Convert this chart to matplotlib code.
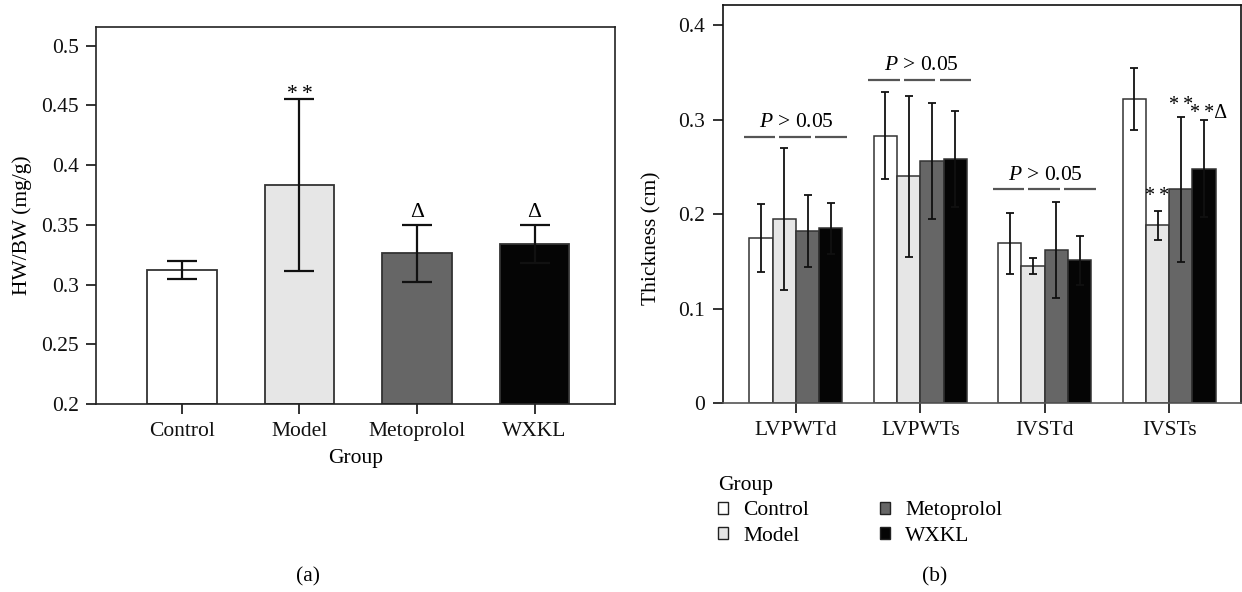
import matplotlib
matplotlib.use("Agg")
import matplotlib.pyplot as plt
from matplotlib.patches import Patch
import numpy as np

plt.rcParams['font.family'] = ['Liberation Serif', 'DejaVu Serif']
plt.rcParams['mathtext.fontset'] = 'custom'
plt.rcParams['mathtext.it'] = 'Liberation Serif:italic'
plt.rcParams['mathtext.rm'] = 'Liberation Serif'

# ---------------- data ----------------
groups = ["Control", "Model", "Metoprolol", "WXKL"]
colors = ["#ffffff", "#e6e6e6", "#666666", "#050505"]

# panel (a)
hwbw_mean = [0.312, 0.383, 0.326, 0.334]
hwbw_err = [0.0075, 0.072, 0.0235, 0.016]
hwbw_marks = ["", "*\u2009*", "Δ", "Δ"]
a_yticks = [0.2, 0.25, 0.3, 0.35, 0.4, 0.45, 0.5]
a_yticklabels = ["0.2", "0.25", "0.3", "0.35", "0.4", "0.45", "0.5"]

# panel (b)
params = ["LVPWTd", "LVPWTs", "IVSTd", "IVSTs"]
thick_mean = {
    "Control":    [0.175, 0.283, 0.169, 0.322],
    "Model":      [0.195, 0.240, 0.145, 0.188],
    "Metoprolol": [0.182, 0.256, 0.162, 0.226],
    "WXKL":       [0.185, 0.258, 0.151, 0.248],
}
thick_err = {
    "Control":    [0.036, 0.046, 0.032, 0.033],
    "Model":      [0.075, 0.085, 0.008, 0.015],
    "Metoprolol": [0.038, 0.061, 0.051, 0.077],
    "WXKL":       [0.027, 0.051, 0.026, 0.051],
}
thick_marks = {"Model": ["", "", "", "*\u2009*"], "Metoprolol": ["", "", "", "*\u2009*"],
               "WXKL": ["", "", "", "*\u2009*Δ"]}
sig_params = ["LVPWTd", "LVPWTs", "IVSTd"]
sig_level = [0.2817, 0.3417, 0.226]
sig_text = "$P$ > 0.05"
b_yticks = [0, 0.1, 0.2, 0.3, 0.4]
b_yticklabels = ["0", "0.1", "0.2", "0.3", "0.4"]

# ---------------- figure ----------------
W, H = 1242, 592
fig = plt.figure(figsize=(W / 100, H / 100), dpi=100)
FS = 15.5
edge = "#333333"

def px(x0, y0, x1, y1):
    return [x0 / W, 1 - y1 / H, (x1 - x0) / W, (y1 - y0) / H]

# ===== panel (a) =====
axa = fig.add_axes(px(95.7, 26.7, 615, 404))
xa = np.arange(len(groups))
axa.bar(xa, [m - 0.2 for m in hwbw_mean], bottom=0.2, width=0.595, color=colors,
        edgecolor=edge, linewidth=1.3, zorder=2)
axa.errorbar(xa, hwbw_mean, yerr=hwbw_err, fmt="none", ecolor="#111111",
             elinewidth=1.6, capsize=11, capthick=1.6, zorder=3)
for x, m, e, t in zip(xa, hwbw_mean, hwbw_err, hwbw_marks):
    if t.startswith("*"):
        axa.text(x, m + e - 0.004, t, ha="center", va="bottom", fontsize=FS)
    elif t:
        axa.text(x, m + e + 0.0025, t, ha="center", va="bottom", fontsize=FS)
axa.set_xlim(-0.734, 3.685)
axa.set_ylim(0.2, 0.5158)
axa.set_yticks(a_yticks)
axa.set_yticklabels(a_yticklabels)
axa.set_xticks(xa)
axa.set_xticklabels(groups)
axa.tick_params(axis="both", direction="out", length=7.3, width=1.2,
                labelsize=FS, colors="#111111")
axa.tick_params(axis="y", pad=4.8)
axa.tick_params(axis="x", pad=6)
for s in axa.spines.values():
    s.set_linewidth(1.2)
    s.set_color("#222222")
axa.set_ylabel("HW/BW (mg/g)", fontsize=FS)
axa.yaxis.label.set_va("center")
axa.yaxis.set_label_coords((22 - 95.7) / 519.3, (404 - 225) / 377.3)
axa.set_xlabel("Group", fontsize=FS)
axa.xaxis.label.set_va("center")
axa.xaxis.set_label_coords(0.5, (404 - 459) / 377.3)

# ===== panel (b) =====
axb = fig.add_axes(px(722.7, 4.7, 1241.3, 403))
xb = np.arange(len(params))
bw = 0.187
offsets = (np.arange(len(groups)) - 1.5) * bw
for g, c, off in zip(groups, colors, offsets):
    axb.bar(xb + off, thick_mean[g], width=bw, color=c, edgecolor=edge,
            linewidth=1.1, zorder=2, label=g)
    axb.errorbar(xb + off, thick_mean[g], yerr=thick_err[g], fmt="none",
                 ecolor="#111111", elinewidth=1.3, capsize=2.8, capthick=1.3, zorder=3)
    if g in thick_marks:
        for i, t in enumerate(thick_marks[g]):
            if not t:
                continue
            if g == "Model":
                axb.text(xb[i] + off, thick_mean[g][i] + thick_err[g][i] + 0.005, t,
                         ha="center", va="bottom", fontsize=FS - 1)
            elif g == "Metoprolol":
                axb.text(xb[i] + off, thick_mean[g][i] + thick_err[g][i] + 0.002, t,
                         ha="center", va="bottom", fontsize=FS - 1)
            else:
                axb.text(xb[i] + off - 0.11, thick_mean[g][i] + thick_err[g][i] - 0.003, t,
                         ha="left", va="bottom", fontsize=FS - 1)

seg_spans = [(-0.42, -0.165), (-0.135, 0.12), (0.155, 0.41)]
for p, lvl in zip(sig_params, sig_level):
    i = params.index(p)
    for s0, s1 in seg_spans:
        axb.plot([i + s0, i + s1], [lvl, lvl], color="#555555", lw=1.6,
                 solid_capstyle="butt", zorder=3)
    axb.text(i + 0.005, lvl + 0.005, sig_text, ha="center", va="bottom", fontsize=FS)

axb.set_xlim(-0.589, 3.58)
axb.set_ylim(0, 0.4215)
axb.set_yticks(b_yticks)
axb.set_yticklabels(b_yticklabels)
axb.set_xticks(xb)
axb.set_xticklabels(params)
axb.tick_params(axis="both", direction="out", length=7, width=1.2,
                labelsize=FS, colors="#111111")
axb.tick_params(axis="y", pad=5.5)
axb.tick_params(axis="x", pad=6)
for s in axb.spines.values():
    s.set_linewidth(1.2)
    s.set_color("#111111")
axb.spines["bottom"].set_color("#555555")
axb.set_ylabel("Thickness (cm)", fontsize=FS)
axb.yaxis.label.set_va("center")
axb.yaxis.set_label_coords((652 - 722.7) / 518.6, (403 - 238) / 398.3)

handles = [Patch(facecolor=c, edgecolor="#222222", linewidth=1.0) for c in colors]
leg = fig.legend(handles, groups, loc="upper left",
                 bbox_to_anchor=(718 / W, 1 - 476 / H), ncol=2, frameon=False,
                 title="Group", title_fontsize=FS, fontsize=FS, alignment="left",
                 handlelength=0.45, handleheight=0.45, handletextpad=0.72,
                 columnspacing=3.3, labelspacing=0.3, borderpad=0, borderaxespad=0)

fig.text(308 / W, 1 - 577 / H, "(a)", ha="center", va="center", fontsize=FS)
fig.text(935 / W, 1 - 577 / H, "(b)", ha="center", va="center", fontsize=FS)

fig.savefig("out.png", dpi=100)
